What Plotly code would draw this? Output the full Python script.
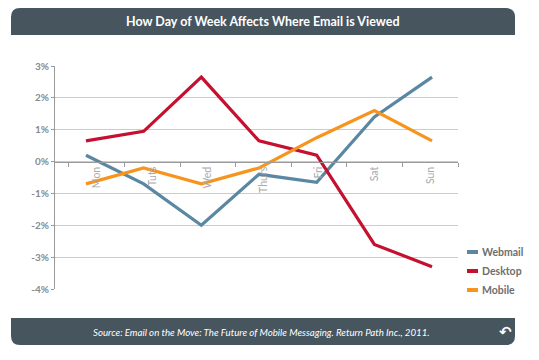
import plotly.graph_objects as go

# ---- data ----
days = ["Mon", "Tuts", "Wed", "Thurs", "Fri", "Sat", "Sun"]
webmail = [0.2, -0.7, -2.0, -0.4, -0.65, 1.4, 2.65]
desktop = [0.65, 0.95, 2.65, 0.65, 0.2, -2.6, -3.3]
mobile = [-0.7, -0.2, -0.7, -0.2, 0.75, 1.6, 0.65]
series_names = ["Webmail", "Desktop", "Mobile"]
series_colors = ["#5a87a2", "#c5102f", "#f7941d"]
y_ticks = [3, 2, 1, 0, -1, -2, -3, -4]
y_tick_labels = ["3%", "2%", "1%", "0%", "-1%", "-2%", "-3%", "-4%"]

title = "How Day of Week Affects Where Email is Viewed"
source = "Source: Email on the Move: The Future of Mobile Messaging. Return Path Inc., 2011."

# ---- layout geometry (screen pixels; the page body has an 8px margin) ----
OFF = 8
WIDTH, HEIGHT = 539 - OFF, 360 - OFF
L, R, T, B = 55, 458, 66, 289          # plot area in screen pixels
PW, PH = R - L, B - T


def px(x):
    return (x - L) / PW


def py(y):
    return (B - y) / PH


BAR = "#47555f"
FONT = "Lato"

fig = go.Figure()
# invisible carrier so the label axis gets its categories
fig.add_trace(go.Scatter(x=days, y=[0] * len(days), mode="markers", marker=dict(opacity=0),
                         hoverinfo="skip", showlegend=False, xaxis="x", yaxis="y"))
for name, vals, col in zip(series_names, [webmail, desktop, mobile], series_colors):
    fig.add_trace(go.Scatter(x=days, y=vals, name=name, mode="lines",
                             line=dict(color=col, width=3.2), showlegend=False,
                             xaxis="x2", yaxis="y"))


def rounded_bar(x0, x1, y0, y1, r, top=True):
    rx, ry = r / PW, r / PH
    X0, X1, Y0, Y1 = px(x0), px(x1), py(y0), py(y1)  # Y0 top (larger), Y1 bottom
    if top:
        return (f"M {X0},{Y1} L {X0},{Y0 - ry} Q {X0},{Y0} {X0 + rx},{Y0} "
                f"L {X1 - rx},{Y0} Q {X1},{Y0} {X1},{Y0 - ry} L {X1},{Y1} Z")
    return (f"M {X0},{Y0} L {X1},{Y0} L {X1},{Y1 + ry} Q {X1},{Y1} {X1 - rx},{Y1} "
            f"L {X0 + rx},{Y1} Q {X0},{Y1} {X0},{Y1 + ry} Z")


shapes = [
    dict(type="path", xref="paper", yref="paper", path=rounded_bar(11, 515, 8, 35, 9, True),
         fillcolor=BAR, line=dict(width=0), layer="below"),
    dict(type="path", xref="paper", yref="paper", path=rounded_bar(11, 515, 318, 345, 9, False),
         fillcolor=BAR, line=dict(width=0), layer="below"),
]

annotations = [
    dict(text=f"<b>{title}</b>", x=px(263), y=py(21.5), xref="paper", yref="paper",
         xanchor="center", yanchor="middle", showarrow=False,
         font=dict(family=FONT, size=12.5, color="white")),
    dict(text=f"<i>{source}</i>", x=px(262), y=py(331.5), xref="paper", yref="paper",
         xanchor="center", yanchor="middle", showarrow=False,
         font=dict(family=FONT, size=9.7, color="white")),
    dict(text="<b>↶</b>", x=px(505), y=py(332), xref="paper", yref="paper",
         xanchor="center", yanchor="middle", showarrow=False,
         font=dict(family="DejaVu Sans", size=15, color="white")),
]

# custom legend
leg_y = [252, 271, 290]
for name, col, ly in zip(series_names, series_colors, leg_y):
    shapes.append(dict(type="line", xref="paper", yref="paper",
                       x0=px(467), x1=px(478), y0=py(ly), y1=py(ly),
                       line=dict(color=col, width=4)))
    annotations.append(dict(text=f"<b>{name}</b>", x=px(480), y=py(ly), xref="paper", yref="paper",
                            xanchor="left", yanchor="middle", showarrow=False,
                            font=dict(family=FONT, size=10.5, color="#6e6e6e")))

fig.update_layout(
    width=WIDTH, height=HEIGHT,
    margin=dict(l=L - OFF, r=WIDTH - (R - OFF), t=T - OFF, b=HEIGHT - (B - OFF), pad=0),
    paper_bgcolor="white", plot_bgcolor="white",
    showlegend=False,
    shapes=shapes, annotations=annotations,
    xaxis=dict(type="category", range=[-0.75, 6.5], anchor="free", position=4 / 7,
               showgrid=False, zeroline=False, showline=True, linecolor="#9a9a9a", linewidth=1,
               ticks="outside", tickson="boundaries", ticklen=4, tickcolor="#9a9a9a",
               tickangle=-90, tickfont=dict(family=FONT, size=10.5, color="#aaaaaa")),
    xaxis2=dict(type="category", range=[-0.537, 6.45], overlaying="x", anchor="y",
                visible=False, showgrid=False, zeroline=False),
    yaxis=dict(range=[-4, 3], tickvals=y_ticks, ticktext=y_tick_labels,
               showgrid=True, gridcolor="#cccccc", gridwidth=1, zeroline=False,
               showline=True, linecolor="#9a9a9a", linewidth=1,
               ticks="outside", ticklen=3, tickcolor="#9a9a9a",
               tickfont=dict(family=FONT, size=10, color="#8a8a8a", weight="bold")),
)

fig.write_html("out.html")
